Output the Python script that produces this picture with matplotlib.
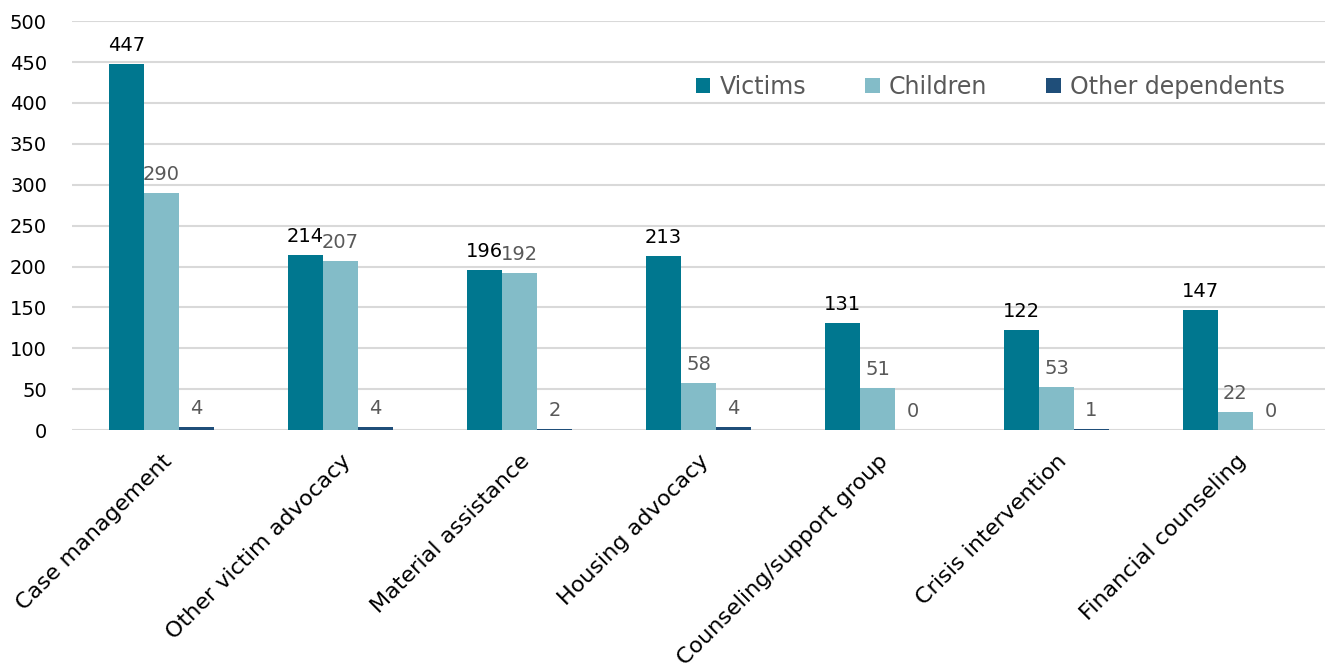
import numpy as np
import matplotlib.pyplot as plt

plt.rcParams['font.family'] = ['DejaVu Sans']

categories = ['Case management', 'Other victim advocacy', 'Material assistance',
              'Housing advocacy', 'Counseling/support group', 'Crisis intervention',
              'Financial counseling']
victims = [447, 214, 196, 213, 131, 122, 147]
children = [290, 207, 192, 58, 51, 53, 22]
other_dep = [4, 4, 2, 4, 0, 1, 0]

series = [('Victims', victims, '#00778F', 'black'),
          ('Children', children, '#83BCC8', '#595959'),
          ('Other dependents', other_dep, '#1F4E79', '#595959')]

fig = plt.figure(figsize=(13.25, 6.69), dpi=100)
ax = fig.add_axes([0.0543, 0.357, 0.9457, 0.6114])

x = np.arange(len(categories))
w = 0.195
for i, (name, vals, col, lcol) in enumerate(series):
    pos = x + (i - 1) * w
    bars = ax.bar(pos, vals, w, color=col, label=name, zorder=3)
    for b, v in zip(bars, vals):
        ax.text(b.get_x() + b.get_width() / 2, v + 11, str(v), ha='center', va='bottom',
                fontsize=14, color=lcol)

ax.set_xlim(-0.5, len(categories) - 0.5)
ax.set_ylim(0, 500)
ax.set_yticks(range(0, 501, 50))
ax.grid(axis='y', color='#D9D9D9', linewidth=1.5, zorder=0)
for s in ax.spines.values():
    s.set_visible(False)
ax.tick_params(axis='both', length=0)
ax.tick_params(axis='y', labelsize=14, pad=18)
ax.set_xticks(x)
ax.set_xticklabels(categories, rotation=45, ha='right', va='top',
                   rotation_mode='anchor', fontsize=16)
ax.tick_params(axis='x', pad=15)

ax.legend(loc='upper right', bbox_to_anchor=(0.985, 0.92), ncol=3, frameon=False,
          fontsize=17, handlelength=0.6, handleheight=0.6, columnspacing=2.5,
          handletextpad=0.4, labelcolor='#595959')

fig.savefig('out.png', dpi=100)
